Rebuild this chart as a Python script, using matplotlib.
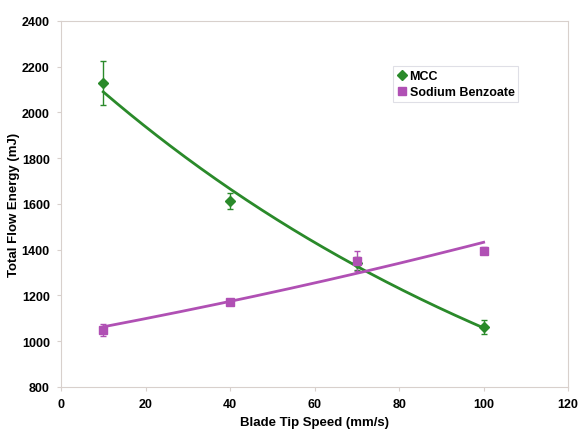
import numpy as np
import matplotlib
matplotlib.use("Agg")
import matplotlib.pyplot as plt
from matplotlib.lines import Line2D

plt.rcParams["font.family"] = ["Liberation Sans", "DejaVu Sans"]

speed = [10, 40, 70, 100]
mcc = [2129, 1613, 1340, 1063]
mcc_err = [95, 33, 30, 30]
sb = [1050, 1172, 1351, 1395]
sb_err = [25, 10, 45, 15]

green = "#2a8a2a"
purple = "#b050b4"

fig = plt.figure(figsize=(5.78, 4.31), dpi=100)
ax = fig.add_axes([0.1055, 0.0998, 0.8775, 0.8492])

xs = np.linspace(10, 100, 200)
handles = []
for y, err, c, m, lab, ms in [(mcc, mcc_err, green, "D", "MCC", 5),
                              (sb, sb_err, purple, "s", "Sodium Benzoate", 6)]:
    b, a = np.polyfit(speed, np.log(y), 1)
    ax.errorbar(speed, y, yerr=err, fmt=m, color=c, ms=ms, capsize=2.5,
                elinewidth=1, capthick=1)
    ax.plot(xs, np.exp(a + b * xs), color=c, lw=2)
    handles.append(Line2D([], [], ls="", marker=m, color=c, ms=ms, label=lab))

ax.set_xlim(0, 120)
ax.set_ylim(800, 2400)
ax.set_xticks(range(0, 121, 20))
ax.set_yticks(range(800, 2401, 200))
for s in ax.spines.values():
    s.set_color("#d8d0cc")
ax.tick_params(colors="#d8d0cc", labelcolor="black", length=3, pad=5)
for lbl in ax.get_xticklabels() + ax.get_yticklabels():
    lbl.set_fontweight("bold")
    lbl.set_fontsize(9)
ax.set_xlabel("Blade Tip Speed (mm/s)", fontweight="bold", fontsize=9.5, labelpad=4)
ax.set_ylabel("Total Flow Energy (mJ)", fontweight="bold", fontsize=9.5, labelpad=1)

leg = ax.legend(handles=handles, loc="upper left", bbox_to_anchor=(0.643, 0.893),
                frameon=True, fancybox=False, edgecolor="#d8d8e0",
                handlelength=0.8, handletextpad=0.2, borderpad=0.3,
                labelspacing=0.3, prop={"weight": "bold", "size": 9})
leg.get_frame().set_linewidth(0.8)

fig.savefig("out.png", dpi=100)
